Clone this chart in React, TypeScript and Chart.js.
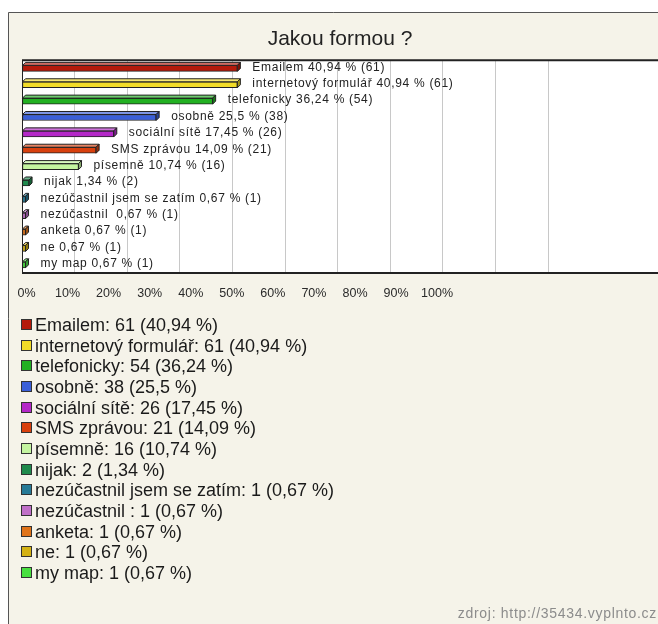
import { useEffect, useRef } from "react";
import { Chart, registerables } from "chart.js";

Chart.register(...registerables);

// ---- data ----
const categories = [
  "Emailem",
  "internetový formulář",
  "telefonicky",
  "osobně",
  "sociální sítě",
  "SMS zprávou",
  "písemně",
  "nijak",
  "nezúčastnil jsem se zatím",
  "nezúčastnil ",
  "anketa",
  "ne",
  "my map",
];
const counts = [61, 61, 54, 38, 26, 21, 16, 2, 1, 1, 1, 1, 1];
const percents = [40.94, 40.94, 36.24, 25.5, 17.45, 14.09, 10.74, 1.34, 0.67, 0.67, 0.67, 0.67, 0.67];
const tickValues = [0, 10, 20, 30, 40, 50, 60, 70, 80, 90, 100];
const titleText = "Jakou formou ?";
const sourceText = "zdroj: http://35434.vyplnto.cz";

// ---- styles ----
const COLORS = [
  "#b41a0a",
  "#f2dc28",
  "#22b022",
  "#3a5fd8",
  "#b428c8",
  "#d8400e",
  "#c4f4a0",
  "#1f8a4c",
  "#267a96",
  "#c070c8",
  "#e0741a",
  "#d4b214",
  "#48e040",
];
const FONT = '"Liberation Sans", Arial, sans-serif';
const fmt = (v: number) => String(v).replace(".", ",");

function mix(hex: string, target: number, amt: number) {
  const n = parseInt(hex.slice(1), 16);
  const r = (n >> 16) & 255, g = (n >> 8) & 255, b = n & 255;
  const f = (c: number) => Math.round(c + (target - c) * amt);
  return `rgb(${f(r)},${f(g)},${f(b)})`;
}

const DEPTH = 3;

const decorPlugin = {
  id: "decor",
  beforeDraw(chart: any) {
    const { ctx, width, height, chartArea: a } = chart;
    ctx.save();
    ctx.fillStyle = "#ffffff";
    ctx.fillRect(0, 0, width, height);
    ctx.fillStyle = "#f5f3e9";
    ctx.fillRect(8, 12, width - 8, height - 12);
    ctx.strokeStyle = "#555";
    ctx.lineWidth = 1;
    ctx.beginPath();
    ctx.moveTo(8.5, height);
    ctx.lineTo(8.5, 12.5);
    ctx.lineTo(width, 12.5);
    ctx.stroke();
    ctx.fillStyle = "#ffffff";
    ctx.fillRect(a.left, a.top, a.right - a.left, a.bottom - a.top);
    ctx.restore();
  },
  beforeDatasetsDraw(chart: any) {
    const { ctx, chartArea: a } = chart;
    ctx.save();
    ctx.strokeStyle = "#222";
    ctx.lineWidth = 2;
    ctx.beginPath();
    ctx.moveTo(a.right, a.top);
    ctx.lineTo(a.left, a.top);
    ctx.moveTo(a.left, a.bottom);
    ctx.lineTo(a.right, a.bottom);
    ctx.stroke();
    ctx.lineWidth = 1;
    ctx.beginPath();
    ctx.moveTo(a.left + 0.5, a.top);
    ctx.lineTo(a.left + 0.5, a.bottom);
    ctx.stroke();
    ctx.restore();
  },
  afterDatasetsDraw(chart: any) {
    const { ctx } = chart;
    const meta = chart.getDatasetMeta(0);
    ctx.save();
    ctx.lineWidth = 1;
    ctx.strokeStyle = "#222";
    meta.data.forEach((el: any, i: number) => {
      const { x, y, base, height } = el.getProps(["x", "y", "base", "height"], true);
      const top = y - height / 2;
      const bottom = y + height / 2;
      const c = COLORS[i];
      // top face
      ctx.beginPath();
      ctx.moveTo(base, top);
      ctx.lineTo(base + DEPTH, top - DEPTH);
      ctx.lineTo(x + DEPTH, top - DEPTH);
      ctx.lineTo(x, top);
      ctx.closePath();
      ctx.fillStyle = mix(c, 255, 0.35);
      ctx.fill();
      ctx.stroke();
      // right face
      ctx.beginPath();
      ctx.moveTo(x, top);
      ctx.lineTo(x + DEPTH, top - DEPTH);
      ctx.lineTo(x + DEPTH, bottom - DEPTH);
      ctx.lineTo(x, bottom);
      ctx.closePath();
      ctx.fillStyle = mix(c, 0, 0.3);
      ctx.fill();
      ctx.stroke();
      // value label
      ctx.fillStyle = "#222";
      ctx.font = `12px ${FONT}`;
      try { (ctx as any).letterSpacing = "0.7px"; } catch (e) {}
      ctx.textBaseline = "middle";
      ctx.textAlign = "left";
      ctx.fillText(`${categories[i]} ${fmt(percents[i])} % (${counts[i]})`, x + 15, y - 1);
      try { (ctx as any).letterSpacing = "0px"; } catch (e) {}
    });
    ctx.restore();
  },
  afterDraw(chart: any) {
    const { ctx, width, height } = chart;
    const x2 = chart.scales.x2;
    ctx.save();
    ctx.font = `18px ${FONT}`;
    ctx.textBaseline = "middle";
    ctx.textAlign = "left";
    const start = x2.bottom + 12;
    categories.forEach((c, i) => {
      const cy = start + i * 20.67;
      ctx.fillStyle = COLORS[i];
      ctx.fillRect(21.5, Math.round(cy) - 5.5, 10, 10);
      ctx.strokeStyle = "#333";
      ctx.lineWidth = 1;
      ctx.strokeRect(21.5, Math.round(cy) - 5.5, 10, 10);
      ctx.fillStyle = "#1a1a1a";
      ctx.fillText(`${c}: ${counts[i]} (${fmt(percents[i])} %)`, 35, cy + 1);
    });
    ctx.font = `14px ${FONT}`;
    try { (ctx as any).letterSpacing = "0.7px"; } catch (e) {}
    ctx.fillStyle = "#8c8c8c";
    ctx.textAlign = "right";
    ctx.fillText(sourceText, width - 1, height - 10);
    ctx.restore();
  },
};

export default function App() {
  const ref = useRef<HTMLCanvasElement | null>(null);
  useEffect(() => {
    if (!ref.current) return;
    const chart = new Chart(ref.current, {
      type: "bar",
      data: {
        labels: categories,
        datasets: [
          {
            data: percents,
            backgroundColor: COLORS,
            borderColor: "#222",
            borderWidth: 1,
            borderSkipped: false,
            barThickness: 6,
          },
        ],
      },
      options: {
        indexAxis: "y",
        responsive: false,
        animation: false,
        devicePixelRatio: 1,
        layout: { padding: { left: 22, right: 0, top: 0, bottom: 311 } },
        plugins: {
          legend: { display: false },
          tooltip: { enabled: false },
          title: {
            display: true,
            text: titleText,
            color: "#222",
            font: { family: FONT, size: 21, weight: "normal" },
            padding: { top: 27, bottom: 8 },
          },
        },
        scales: {
          y: { display: false },
          x: {
            type: "linear",
            min: 0,
            max: 120.9,
            position: "bottom",
            grid: { color: "#c8c8c8", drawTicks: false, lineWidth: 1 },
            border: { display: false },
            ticks: { display: false },
            afterBuildTicks: (s: any) => {
              s.ticks = tickValues.map((v) => ({ value: v }));
            },
            afterFit: (s: any) => {
              s.height = 0;
            },
          },
          x2: {
            type: "linear",
            min: -1.1,
            max: 153.8,
            position: "bottom",
            grid: { display: false, drawTicks: false },
            border: { display: false },
            ticks: {
              color: "#2a2a2a",
              font: { family: FONT, size: 12.5 },
              padding: 13,
              maxRotation: 0,
              autoSkip: false,
              callback: (v: any) => `${v}%`,
            },
            afterBuildTicks: (s: any) => {
              s.ticks = tickValues.map((v) => ({ value: v }));
            },
            afterFit: (s: any) => {
              s.height = 40;
            },
          },
        },
      } as any,
      plugins: [decorPlugin],
    });
    return () => chart.destroy();
  }, []);
  return (
    <div style={{ position: "fixed", left: 0, top: 0, width: 658, height: 624 }}>
      <canvas ref={ref} width={658} height={624} style={{ display: "block" }} />
    </div>
  );
}
